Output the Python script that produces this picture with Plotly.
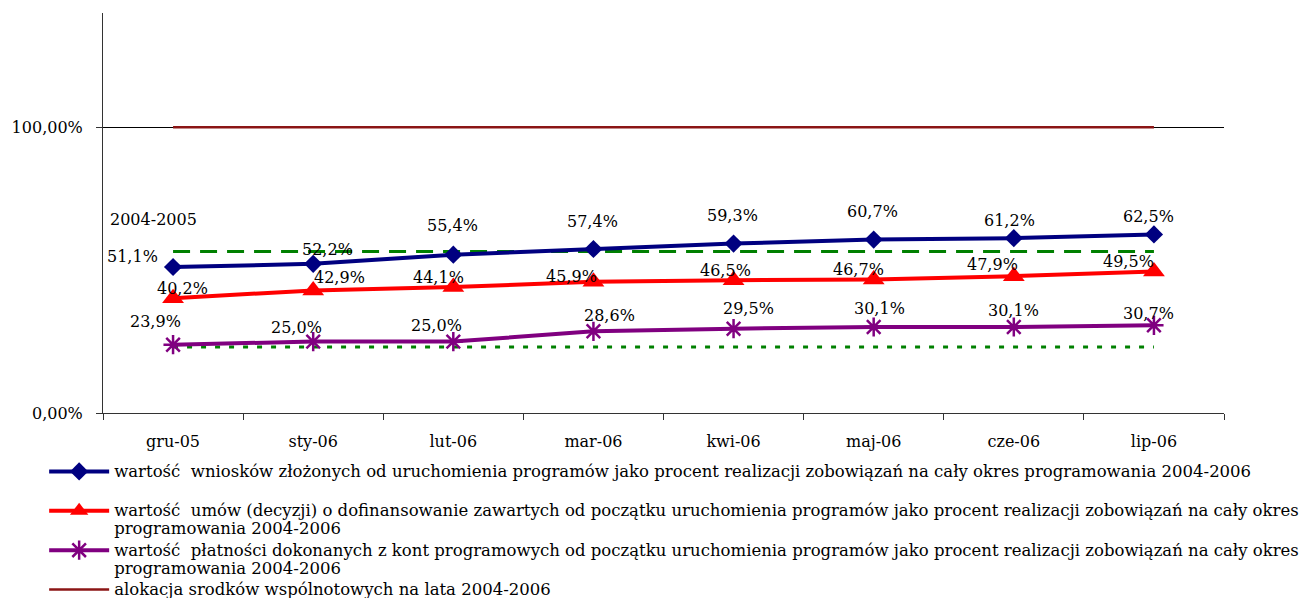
import plotly.graph_objects as go

categories = ["gru-05", "sty-06", "lut-06", "mar-06", "kwi-06", "maj-06", "cze-06", "lip-06"]

wnioski = [0.511, 0.522, 0.554, 0.574, 0.593, 0.607, 0.612, 0.625]
umowy = [0.402, 0.429, 0.441, 0.459, 0.465, 0.467, 0.479, 0.495]
platnosci = [0.239, 0.250, 0.250, 0.286, 0.295, 0.301, 0.301, 0.307]
alokacja = [1.0, 1.0, 1.0, 1.0, 1.0, 1.0, 1.0, 1.0]
ref_dashed = [0.565, 0.565, 0.565, 0.565, 0.565, 0.565, 0.565, 0.565]
ref_dotted = [0.231, 0.231, 0.231, 0.231, 0.231, 0.231, 0.231, 0.231]

y_tickvals = [0.0, 1.0]
y_ticktext = ["0,00%", "100,00%"]

name_lines = [
    ["wartość\u00a0 wniosków złożonych od uruchomienia programów jako procent realizacji zobowiązań na cały okres programowania 2004-2006", "\u00a0"],
    ["wartość\u00a0 umów (decyzji) o dofinansowanie zawartych od początku uruchomienia programów jako procent realizacji zobowiązań na cały okres", "programowania 2004-2006"],
    ["wartość\u00a0 płatności dokonanych z kont programowych od początku uruchomienia programów jako procent realizacji zobowiązań na cały okres", "programowania 2004-2006"],
    ["alokacja srodków wspólnotowych na lata 2004-2006"],
]
ref_label = "2004-2005"

# label offsets in pixels (style only)
shift_w = [(-41, 11), (14, 14), (-1, 29), (-1, 28), (-1, 28), (-1, 28), (-4, 18), (-5, 18)]
shift_u = [(9, 10), (26, 13), (-15, 10), (-22, 5), (-8, 10), (-15, 10), (-21, 12), (-25, 10)]
shift_p = [(-18, 23), (-17, 14), (-17, 16), (16, 16), (15, 20), (6, 19), (0, 17), (-5, 12)]

FONT = "DejaVu Serif"


def legend_name(lines):
    return "<br>".join(f"<span style='font-size:16.5px'>{ln}</span>" for ln in lines)


names = [legend_name(l) for l in name_lines]

fig = go.Figure()

fig.add_trace(go.Scatter(x=categories, y=ref_dashed, mode="lines",
                         line=dict(color="#008000", width=3, dash="17px,10px"),
                         showlegend=False, hoverinfo="skip"))
fig.add_trace(go.Scatter(x=categories, y=ref_dotted, mode="lines",
                         line=dict(color="#008000", width=3, dash="5px,9px"),
                         showlegend=False, hoverinfo="skip"))

fig.add_trace(go.Scatter(x=categories, y=wnioski, mode="lines+markers", name=names[0],
                         line=dict(color="#000080", width=4),
                         marker=dict(symbol="diamond", size=14, color="#000080")))
fig.add_trace(go.Scatter(x=categories, y=umowy, mode="lines+markers", name=names[1],
                         line=dict(color="#FF0000", width=4),
                         marker=dict(symbol="triangle-up", size=19, color="#FF0000")))
fig.add_trace(go.Scatter(x=categories, y=platnosci, mode="lines+markers", name=names[2],
                         line=dict(color="#800080", width=4),
                         marker=dict(symbol="asterisk-open", size=16,
                                     line=dict(color="#800080", width=2.5))))
fig.add_trace(go.Scatter(x=categories, y=alokacja, mode="lines", name=names[3],
                         line=dict(color="#8B1515", width=2.5)))


def fmt(v):
    return f"{v * 100:.1f}%".replace(".", ",")


annotations = []
for series, shifts in ((wnioski, shift_w), (umowy, shift_u), (platnosci, shift_p)):
    for c, v, (dx, dy) in zip(categories, series, shifts):
        annotations.append(dict(x=c, y=v, xref="x", yref="y", text=fmt(v),
                                showarrow=False, xshift=dx, yshift=dy,
                                font=dict(family=FONT, size=16, color="#000000")))
annotations.append(dict(x=categories[0], y=ref_dashed[0], xref="x", yref="y",
                        text=ref_label, showarrow=False, xshift=-20, yshift=32,
                        font=dict(family=FONT, size=16, color="#000000")))

fig.update_layout(
    width=1307, height=590,
    margin=dict(l=95, r=91, t=5, b=185, autoexpand=False),
    paper_bgcolor="white", plot_bgcolor="white",
    font=dict(family=FONT, size=16, color="#000000"),
    xaxis=dict(type="category", range=[-0.5, 7.5], showline=True, linecolor="#333333",
               linewidth=1, ticks="outside", ticklen=6, tickcolor="#333333",
               tickson="boundaries", showgrid=False, ticklabelstandoff=14,
               tickfont=dict(family=FONT, size=16, color="#000000"), fixedrange=True),
    yaxis=dict(range=[0, 1.4], tickvals=y_tickvals, ticktext=y_ticktext,
               showline=True, linecolor="#333333", linewidth=1, ticks="outside",
               ticklen=6, tickcolor="#333333", showgrid=True, gridcolor="#000000",
               gridwidth=1, zeroline=False, ticklabelstandoff=10,
               tickfont=dict(family=FONT, size=16, color="#000000"), fixedrange=True),
    legend=dict(x=-0.0525, y=-0.107, xanchor="left", yanchor="top",
                orientation="v", valign="top", bgcolor="rgba(0,0,0,0)",
                font=dict(family=FONT, size=14, color="#000000"),
                tracegroupgap=0, itemwidth=60),
    annotations=annotations,
    showlegend=True,
)

fig.write_html("out.html")
